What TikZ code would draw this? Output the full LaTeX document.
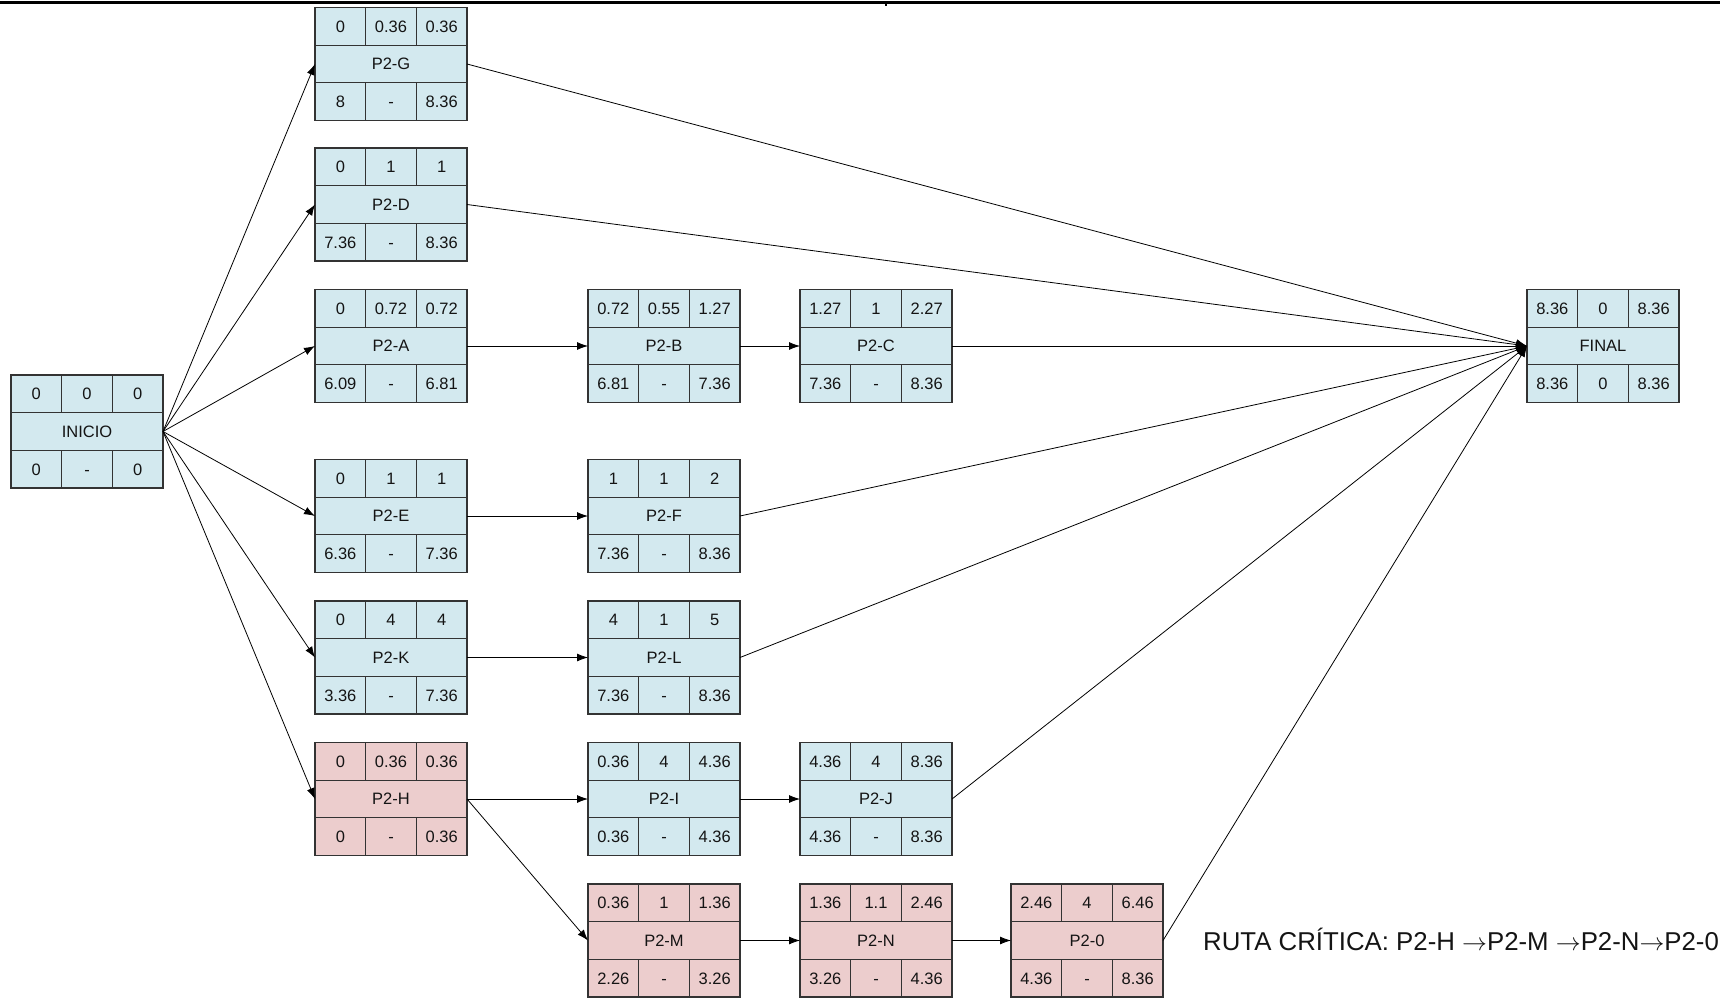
\documentclass[tikz,border=0pt]{standalone}
\usepackage{fontspec}
\setmainfont{Liberation Sans}
\usetikzlibrary{arrows.meta,calc}

\definecolor{cellblue}{HTML}{D3E9EF}
\definecolor{cellpink}{HTML}{ECCDCD}
\definecolor{cellline}{HTML}{333333}

\tikzset{
  actframe/.style={draw=cellline, line width=1.1pt, rectangle, minimum width=152pt,
    minimum height=113pt, inner sep=0pt, outer sep=0pt, anchor=north west},
  normal/.style={fill=cellblue},
  critical/.style={fill=cellpink},
  celltext/.style={font=\fontsize{16.5}{18}\selectfont, inner sep=0pt, anchor=base, text=black!92},
  divider/.style={draw=cellline, line width=1.1pt},
  link/.style={draw=black, line width=0.8pt, -{Latex[length=11pt,width=8pt]}},
}

% activity box: name, x, y, fill style, top row a/b/c, label, bottom row d/e/f
% text sits on a baseline 5.9pt below each cell's centre, so figures are centred
\newcommand\actbox[7]{%
  \node[actframe,#4] (#1) at (#2,#3) {};
  \draw[divider] ($(#1.north west)+(0pt,-37.667pt)$) -- ($(#1.north east)+(0pt,-37.667pt)$);
  \draw[divider] ($(#1.south west)+(0pt,37.667pt)$) -- ($(#1.south east)+(0pt,37.667pt)$);
  \foreach \dx in {50.667pt,101.333pt}{
    \draw[divider] ($(#1.north west)+(\dx,0pt)$) -- ++(0pt,-37.667pt);
    \draw[divider] ($(#1.south west)+(\dx,0pt)$) -- ++(0pt,37.667pt);
  }
  \node[celltext] (#1-name) at ($(#1.center)+(0pt,-5.9pt)$) {#6};
  \foreach \p/\q/\r in {#5}{
    \node[celltext] (#1-t1) at ($(#1.north west)+(25.333pt,-24.733pt)$) {\p};
    \node[celltext] (#1-t2) at ($(#1.north west)+(76pt,-24.733pt)$) {\q};
    \node[celltext] (#1-t3) at ($(#1.north west)+(126.667pt,-24.733pt)$) {\r};
  }
  \foreach \p/\q/\r in {#7}{
    \node[celltext] (#1-b1) at ($(#1.south west)+(25.333pt,12.933pt)$) {\p};
    \node[celltext] (#1-b2) at ($(#1.south west)+(76pt,12.933pt)$) {\q};
    \node[celltext] (#1-b3) at ($(#1.south west)+(126.667pt,12.933pt)$) {\r};
  }
}

\newcommand\nextact{\ensuremath{\rightarrow}}

\begin{document}
\begin{tikzpicture}[x=1pt,y=-1pt]
  \fill[white] (0,0) rectangle (1720,1000);
  \useasboundingbox (0,0) rectangle (1720,1000);

  % header rule
  \draw[line width=2.2pt] (0,2.5) -- (1720,2.5);
  \draw[line width=1.3pt] (886,2.5) -- (886,6);

  % activities
  \actbox{INICIO}{11}{375}{normal}{0/0/0}{INICIO}{0/-/0}
  \actbox{G}{315}{7.5}{normal}{0/0.36/0.36}{P2-G}{8/-/8.36}
  \actbox{D}{315}{148}{normal}{0/1/1}{P2-D}{7.36/-/8.36}
  \actbox{A}{315}{289.5}{normal}{0/0.72/0.72}{P2-A}{6.09/-/6.81}
  \actbox{E}{315}{459.5}{normal}{0/1/1}{P2-E}{6.36/-/7.36}
  \actbox{K}{315}{601}{normal}{0/4/4}{P2-K}{3.36/-/7.36}
  \actbox{H}{315}{742.5}{critical}{0/0.36/0.36}{P2-H}{0/-/0.36}
  \actbox{B}{588}{289.5}{normal}{0.72/0.55/1.27}{P2-B}{6.81/-/7.36}
  \actbox{F}{588}{459.5}{normal}{1/1/2}{P2-F}{7.36/-/8.36}
  \actbox{L}{588}{601}{normal}{4/1/5}{P2-L}{7.36/-/8.36}
  \actbox{I}{588}{742.5}{normal}{0.36/4/4.36}{P2-I}{0.36/-/4.36}
  \actbox{M}{588}{884}{critical}{0.36/1/1.36}{P2-M}{2.26/-/3.26}
  \actbox{C}{800}{289.5}{normal}{1.27/1/2.27}{P2-C}{7.36/-/8.36}
  \actbox{J}{800}{742.5}{normal}{4.36/4/8.36}{P2-J}{4.36/-/8.36}
  \actbox{N}{800}{884}{critical}{1.36/1.1/2.46}{P2-N}{3.26/-/4.36}
  \actbox{O}{1011}{884}{critical}{2.46/4/6.46}{P2-0}{4.36/-/8.36}
  \actbox{FINAL}{1527}{289.5}{normal}{8.36/0/8.36}{FINAL}{8.36/0/8.36}

  % precedence links
  \foreach \t in {G,D,A,E,K,H}{\draw[link] (INICIO.east) -- (\t.west);}
  \draw[link] (A.east) -- (B.west);
  \draw[link] (B.east) -- (C.west);
  \draw[link] (E.east) -- (F.west);
  \draw[link] (K.east) -- (L.west);
  \draw[link] (H.east) -- (I.west);
  \draw[link] (I.east) -- (J.west);
  \draw[link] (H.east) -- (M.west);
  \draw[link] (M.east) -- (N.west);
  \draw[link] (N.east) -- (O.west);
  \foreach \s in {G,D,C,F,L,J,O}{\draw[link] (\s.east) -- (FINAL.west);}

  % critical path note
  \node[anchor=base west, inner sep=0pt, font=\fontsize{25.8}{30}\selectfont, text=black!92]
    (ruta) at (1203,950) {RUTA CRÍTICA: P2-H \nextact P2-M \nextact P2-N\nextact P2-0};
\end{tikzpicture}
\end{document}
